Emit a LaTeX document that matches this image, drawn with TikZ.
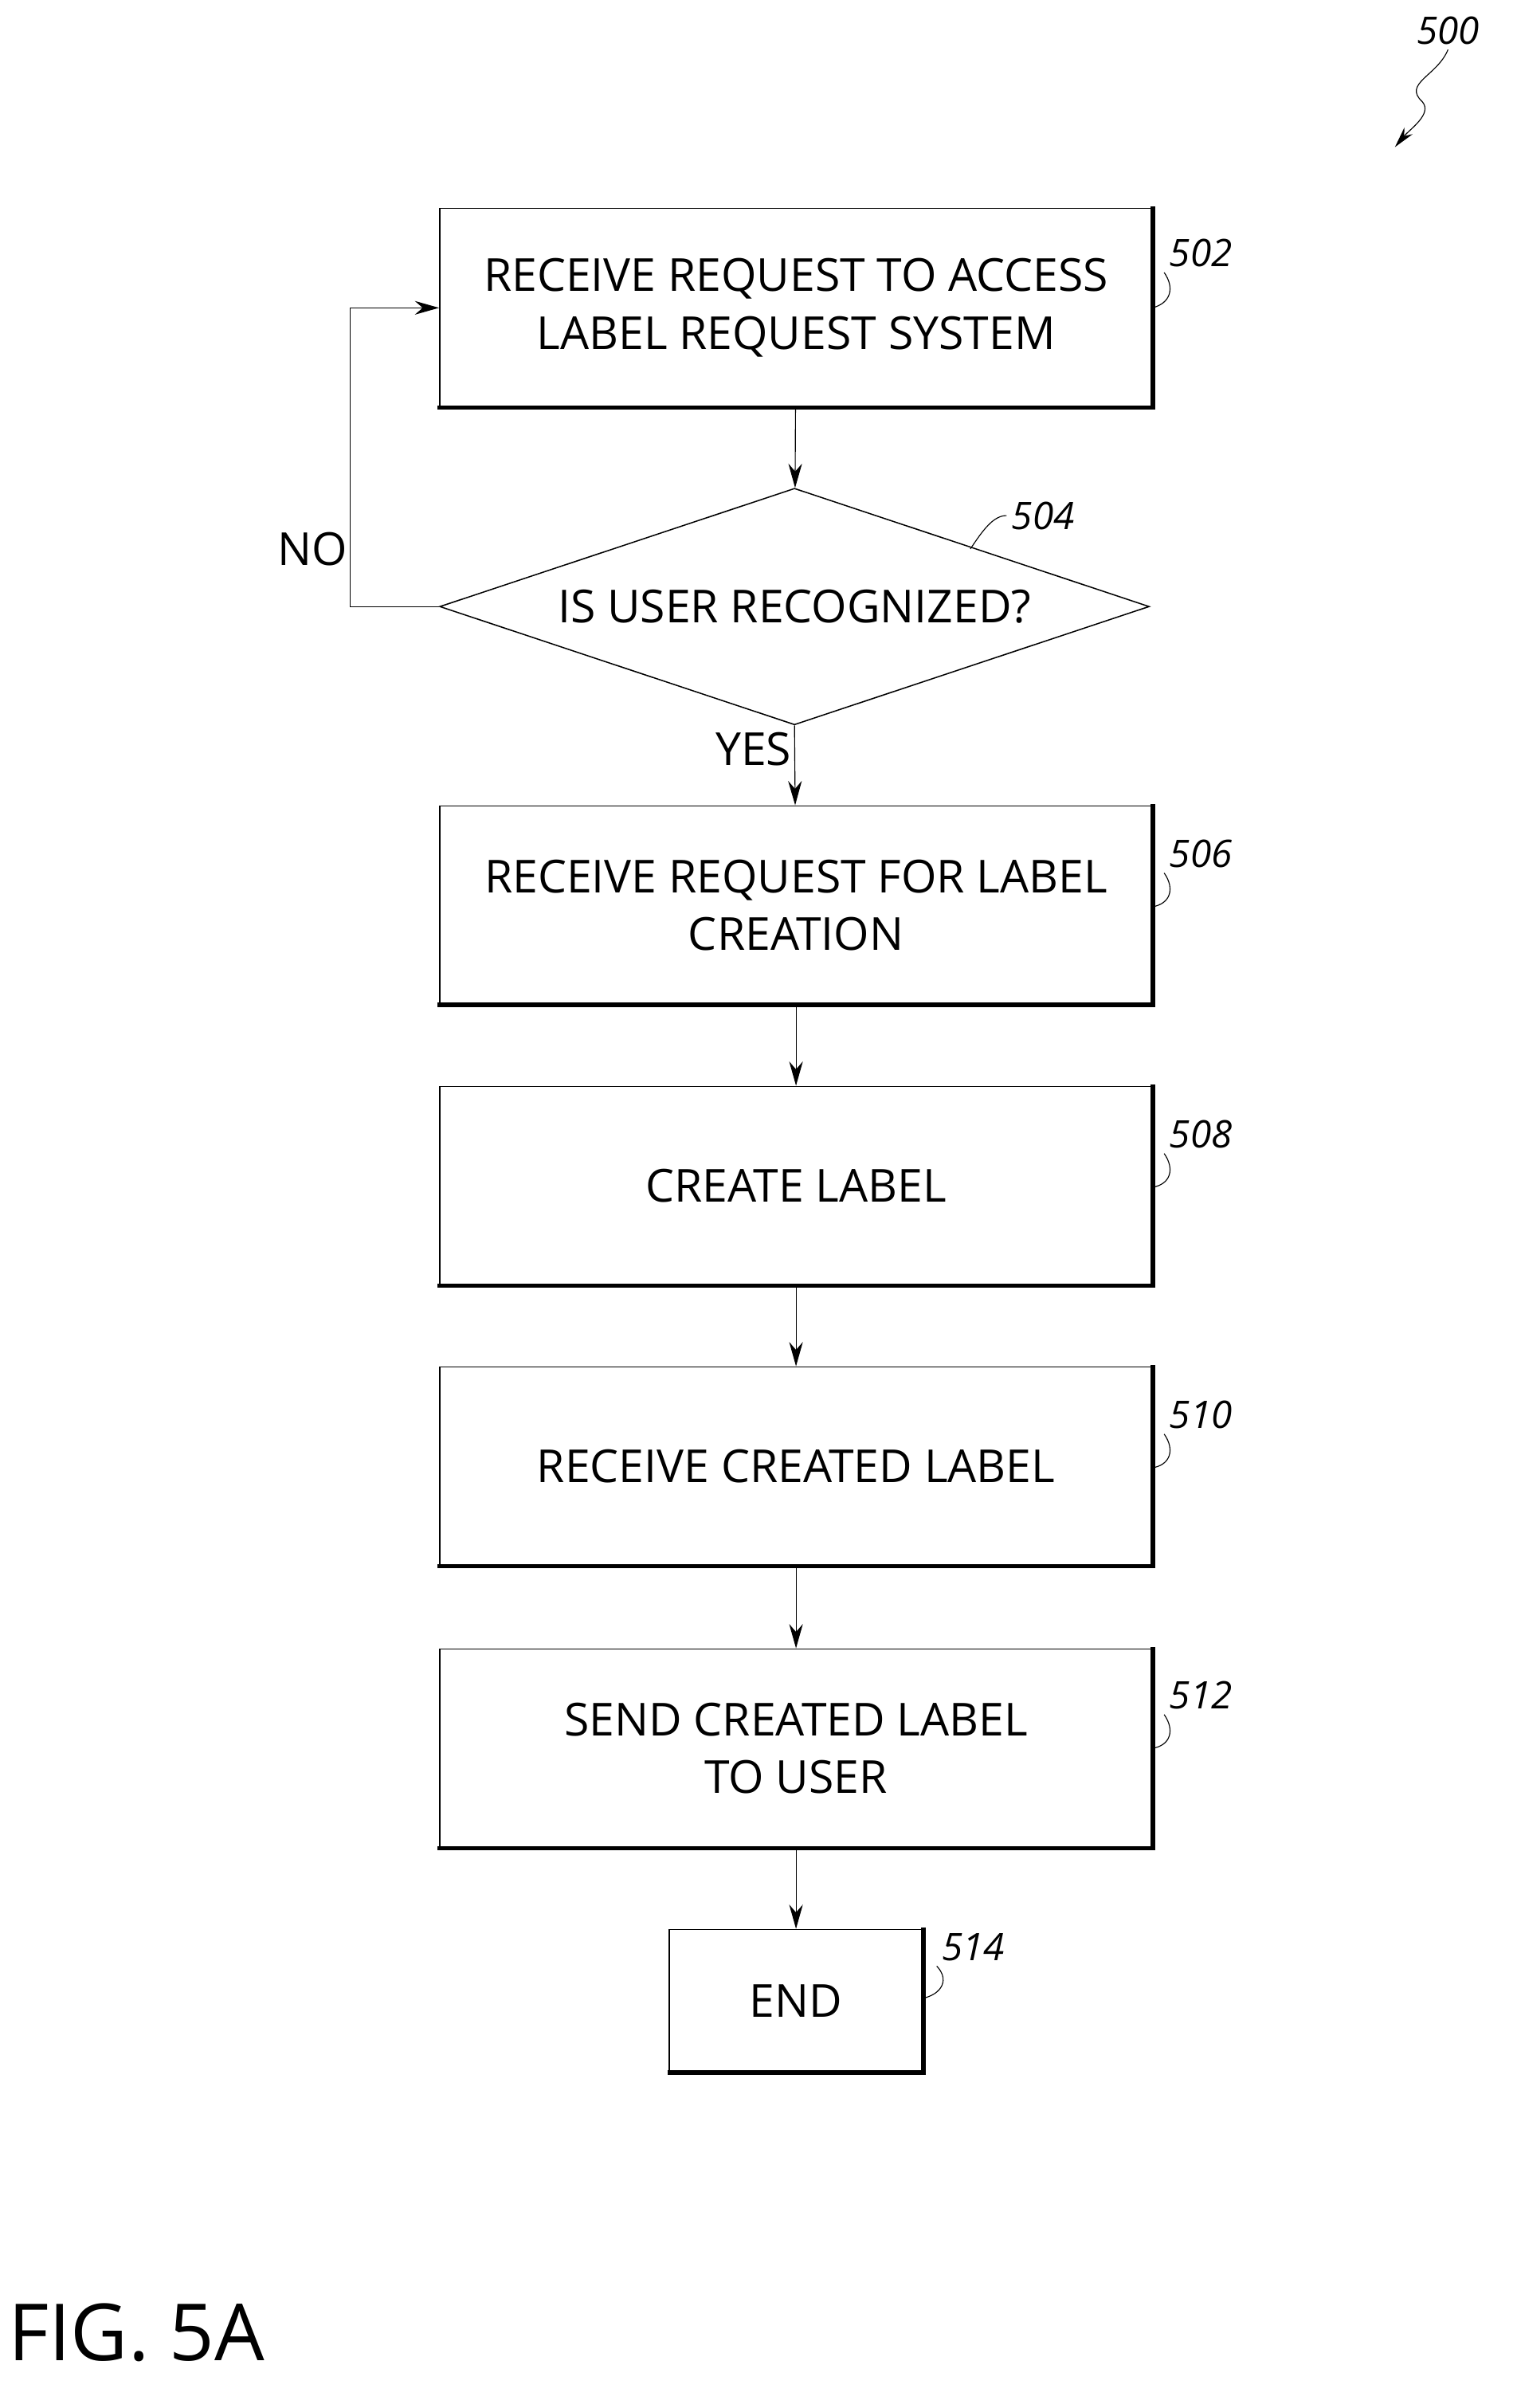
\documentclass[tikz,border=0pt]{standalone}
\usepackage{fontspec}
\setmainfont{Open Sans}
\usetikzlibrary{shapes.geometric,arrows.meta}
\begin{document}
\begin{tikzpicture}[x=1pt,y=-1pt,
  txt/.style={font=\fontsize{30}{38}\selectfont,align=center},
  box/.style={draw,line width=0.8pt,minimum width=470pt,minimum height=131pt,txt,anchor=north},
  arr/.style={-{Stealth[length=16pt,width=9pt]},line width=0.6pt},
  ref/.style={font=\fontsize{25}{25}\selectfont\itshape}]
\useasboundingbox (0,0) rectangle (1000,1588);
\newcommand{\shadowbox}[1]{\draw[line width=3pt] ([xshift=-1pt]#1.south west)--([xshift=0pt]#1.south east)--([yshift=1pt]#1.north east);}
\node[box] (b502) at (525,137) {RECEIVE REQUEST TO ACCESS\\LABEL REQUEST SYSTEM};
\node[diamond,draw,line width=0.8pt,minimum width=468pt,minimum height=156pt,aspect=3,inner sep=0pt,txt] (d504) at (524,400) {IS USER RECOGNIZED?};
\node[box] (b506) at (525,531) {RECEIVE REQUEST FOR LABEL\\CREATION};
\node[box] (b508) at (525,716) {CREATE LABEL};
\node[box] (b510) at (525,901) {RECEIVE CREATED LABEL};
\node[box] (b512) at (525,1087) {SEND CREATED LABEL\\TO USER};
\node[box,minimum width=167pt,minimum height=94pt] (b514) at (525,1272) {END};
\foreach \b in {b502,b506,b508,b510,b512,b514} {\shadowbox{\b}}
\draw[arr] (b502) -- (d504);
\draw[arr] (d504.south) -- (b506);
\draw[arr] (b506) -- (b508);
\draw[arr] (b508) -- (b510);
\draw[arr] (b510) -- (b512);
\draw[arr] (b512) -- (b514);
\coordinate (c1) at (231,400);
\coordinate (c2) at (231,203);
\draw[arr] (d504.west) -- (c1) -- (c2) -- (b502.west |- c2);
\node[txt] (no) at (206,362) {NO};
\node[txt] (yes) at (497,494) {YES};
% reference labels
\node[ref] (l500) at (955,20) {500};
\coordinate (a500) at (920,97);
\draw[-{Stealth[length=14pt,width=7pt]},line width=0.6pt] (l500.south) .. controls (948,50) and (925,55) .. (938,67) .. controls (945,75) and (930,85) .. (a500);
\node[ref] (l502) at (792,167) {502};
\draw[line width=0.6pt] (l502.south west) .. controls (775,190) and (772,200) .. (760,203);
\node[ref] (l504) at (688,340) {504};
\draw[line width=0.6pt] (l504.west) .. controls (655,340) and (648,350) .. (640,362);
\node[ref] (l506) at (792,563) {506};
\draw[line width=0.6pt] (l506.south west) .. controls (775,586) and (772,596) .. (760,598);
\node[ref] (l508) at (792,748) {508};
\draw[line width=0.6pt] (l508.south west) .. controls (775,771) and (772,781) .. (760,783);
\node[ref] (l510) at (792,933) {510};
\draw[line width=0.6pt] (l510.south west) .. controls (775,956) and (772,966) .. (760,968);
\node[ref] (l512) at (792,1118) {512};
\draw[line width=0.6pt] (l512.south west) .. controls (775,1141) and (772,1151) .. (760,1153);
\node[ref] (l514) at (642,1284) {514};
\draw[line width=0.6pt] (l514.south west) .. controls (626,1305) and (622,1315) .. (608,1318);
\node[font=\fontsize{52}{52}\selectfont] (fig) at (90,1538) {FIG. 5A};
\end{tikzpicture}
\end{document}
